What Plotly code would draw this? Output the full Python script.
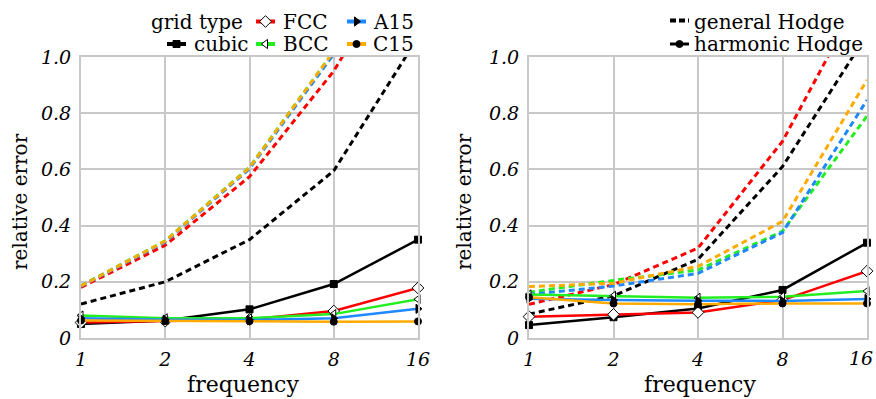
import math
import plotly.graph_objects as go

# ---------------- data ----------------
freq = [1, 2, 4, 8, 16]
x_tick_labels = ["1", "2", "4", "8", "16"]
y_tick_vals = [0, 0.2, 0.4, 0.6, 0.8, 1.0]
y_tick_labels = ["0", "0.2", "0.4", "0.6", "0.8", "1.0"]

grid_types = ["cubic", "FCC", "BCC", "A15", "C15"]

# left panel: dashed (general) and solid (harmonic) per grid type
left_dash_cubic = [0.121, 0.200, 0.350, 0.595, 1.07]
left_dash_fcc = [0.180, 0.330, 0.574, 0.950, 1.45]
left_dash_bcc = [0.186, 0.346, 0.608, 1.020, 1.70]
left_dash_a15 = [0.184, 0.342, 0.602, 1.010, 1.70]
left_dash_c15 = [0.185, 0.345, 0.606, 1.020, 1.70]

left_solid_cubic = [0.050, 0.062, 0.102, 0.192, 0.350]
left_solid_fcc = [0.055, 0.060, 0.066, 0.096, 0.178]
left_solid_bcc = [0.080, 0.070, 0.070, 0.085, 0.138]
left_solid_a15 = [0.070, 0.065, 0.064, 0.070, 0.104]
left_solid_c15 = [0.062, 0.060, 0.060, 0.058, 0.059]

# right panel
right_dash_cubic = [0.085, 0.150, 0.280, 0.610, 1.08]
right_dash_fcc = [0.120, 0.190, 0.320, 0.700, 1.26]
right_dash_bcc = [0.163, 0.205, 0.242, 0.380, 0.790]
right_dash_a15 = [0.155, 0.185, 0.230, 0.375, 0.847]
right_dash_c15 = [0.183, 0.195, 0.255, 0.415, 0.918]

right_solid_cubic = [0.046, 0.074, 0.105, 0.171, 0.339]
right_solid_fcc = [0.076, 0.084, 0.091, 0.135, 0.238]
right_solid_bcc = [0.155, 0.150, 0.143, 0.147, 0.167]
right_solid_a15 = [0.140, 0.135, 0.133, 0.132, 0.139]
right_solid_c15 = [0.145, 0.123, 0.120, 0.123, 0.123]

# ---------------- styles ----------------
FONT = "DejaVu Serif"
colors = {"cubic": "#000000", "FCC": "#ff0000", "BCC": "#22ee22",
          "A15": "#1e88ff", "C15": "#ffaa00"}
markers = {
    "cubic": dict(symbol="square", size=7, color="black", line=dict(color="black", width=1)),
    "FCC": dict(symbol="diamond", size=9, color="white", line=dict(color="black", width=1)),
    "BCC": dict(symbol="triangle-left", size=8, color="white", line=dict(color="black", width=1)),
    "A15": dict(symbol="triangle-right", size=8, color="black", line=dict(color="black", width=1)),
    "C15": dict(symbol="circle", size=7, color="black", line=dict(color="black", width=1)),
}
DASH = "6px,4px"

left_dash = [left_dash_cubic, left_dash_fcc, left_dash_bcc, left_dash_a15, left_dash_c15]
left_solid = [left_solid_cubic, left_solid_fcc, left_solid_bcc, left_solid_a15, left_solid_c15]
right_dash = [right_dash_cubic, right_dash_fcc, right_dash_bcc, right_dash_a15, right_dash_c15]
right_solid = [right_solid_cubic, right_solid_fcc, right_solid_bcc, right_solid_a15, right_solid_c15]

fig = go.Figure()

for (dash_sets, solid_sets, xa, ya) in [(left_dash, left_solid, "x", "y"),
                                        (right_dash, right_solid, "x2", "y2")]:
    for g, vals in zip(grid_types, dash_sets):
        fig.add_trace(go.Scatter(x=freq, y=vals, mode="lines", xaxis=xa, yaxis=ya,
                                 line=dict(color=colors[g], width=3, dash=DASH),
                                 showlegend=False, hoverinfo="skip"))
    for g, vals in zip(grid_types, solid_sets):
        fig.add_trace(go.Scatter(x=freq, y=vals, mode="lines+markers", xaxis=xa, yaxis=ya,
                                 line=dict(color=colors[g], width=2.5),
                                 marker=markers[g], cliponaxis=False,
                                 showlegend=False, hoverinfo="skip"))

# ---------------- manual legends (overlay pixel axis) ----------------
W, H = 876, 399
legend_rows = {"top": 21.5, "bottom": 44}
leg_items = [
    ("cubic", 167, "bottom", 192),
    ("FCC", 256, "top", 281),
    ("BCC", 256, "bottom", 281),
    ("A15", 347, "top", 371),
    ("C15", 347, "bottom", 371),
]
HANDLE_LEN = 19
for name, hx, row, tx in leg_items:
    yy = legend_rows[row]
    fig.add_trace(go.Scatter(x=[hx, hx + HANDLE_LEN], y=[yy, yy], mode="lines",
                             xaxis="x3", yaxis="y3",
                             line=dict(color=colors[name], width=4),
                             showlegend=False, hoverinfo="skip"))
    fig.add_trace(go.Scatter(x=[hx + HANDLE_LEN / 2], y=[yy], mode="markers",
                             xaxis="x3", yaxis="y3", marker=markers[name],
                             cliponaxis=False, showlegend=False, hoverinfo="skip"))

fig.add_trace(go.Scatter(x=[670, 689], y=[20.5, 20.5], mode="lines", xaxis="x3", yaxis="y3",
                         line=dict(color="black", width=4, dash="6px,3px"),
                         showlegend=False, hoverinfo="skip"))
fig.add_trace(go.Scatter(x=[670, 689], y=[44, 44], mode="lines", xaxis="x3", yaxis="y3",
                         line=dict(color="black", width=3),
                         showlegend=False, hoverinfo="skip"))
fig.add_trace(go.Scatter(x=[679.5], y=[44], mode="markers", xaxis="x3", yaxis="y3",
                         marker=markers["C15"], cliponaxis=False,
                         showlegend=False, hoverinfo="skip"))

annots = []
def txt(x, y, s, anchor="left", size=20, angle=0):
    annots.append(dict(x=x, y=y, xref="x3", yref="y3", text=s, showarrow=False,
                       xanchor=anchor, yanchor="middle", textangle=angle,
                       font=dict(family=FONT, size=size, color="black")))

txt(149, legend_rows["top"], "grid type")
for name, hx, row, tx in leg_items:
    txt(tx, legend_rows[row], name)
txt(692, 21.5, "general Hodge")
txt(692, 44, "harmonic Hodge")

txt(20, 202, "relative error", anchor="center", angle=-90, size=20)
txt(464, 202, "relative error", anchor="center", angle=-90, size=20)
txt(243, 384, "frequency", anchor="center", size=22)
txt(700, 384, "frequency", anchor="center", size=22)

# last x tick label of the right panel, kept inside the page edge
# (annotation positions on a log axis are given in log10 units)
annots.append(dict(x=math.log10(freq[-1]), y=0, xref="x2", yref="y2",
                   text=x_tick_labels[-1], showarrow=False, xanchor="right",
                   yanchor="top", xshift=8, yshift=-7,
                   font=dict(family=FONT, size=19, color="black", style="italic")))

# ---------------- axes ----------------
GRID = "#c8c8c8"
xdom_l = [81 / W, 418 / W]
xdom_r = [529 / W, 867 / W]
ydom = [1 - 338 / H, 1 - 57 / H]

def xaxis(domain, anchor, labels):
    return dict(domain=domain, anchor=anchor, type="log", range=[0, 1.20412],
                tickvals=freq, ticktext=labels, showgrid=True, gridcolor=GRID,
                gridwidth=2, showline=True, linecolor=GRID, linewidth=2, mirror=True,
                ticks="", zeroline=False, automargin=False, ticklabelstandoff=3,
                ticklabeloverflow="allow",
                tickfont=dict(family=FONT, size=19, style="italic", color="black"))

def yaxis(anchor):
    return dict(domain=ydom, anchor=anchor, range=[0, 1.0], tickvals=y_tick_vals,
                ticktext=y_tick_labels, showgrid=True, gridcolor=GRID, gridwidth=2,
                showline=True, linecolor=GRID, linewidth=2, mirror=True, ticks="",
                zeroline=False, ticklabelstandoff=4, automargin=False,
                ticklabeloverflow="allow",
                tickfont=dict(family=FONT, size=19, style="italic", color="black"))

right_labels = x_tick_labels[:-1] + [""]

fig.update_layout(
    width=W, height=H,
    margin=dict(l=0, r=0, t=0, b=0, pad=0, autoexpand=False),
    paper_bgcolor="white", plot_bgcolor="rgba(0,0,0,0)",
    xaxis=xaxis(xdom_l, "y", x_tick_labels), yaxis=yaxis("x"),
    xaxis2=xaxis(xdom_r, "y2", right_labels), yaxis2=yaxis("x2"),
    xaxis3=dict(domain=[0, 1], anchor="y3", range=[0, W], visible=False,
                fixedrange=True, automargin=False),
    yaxis3=dict(domain=[0, 1], anchor="x3", range=[H, 0], visible=False,
                fixedrange=True, automargin=False),
    annotations=annots,
    showlegend=False,
)

fig.write_html("out.html", config={"displayModeBar": False},
               post_script="document.body.style.margin='0';document.body.style.overflow='hidden';")
